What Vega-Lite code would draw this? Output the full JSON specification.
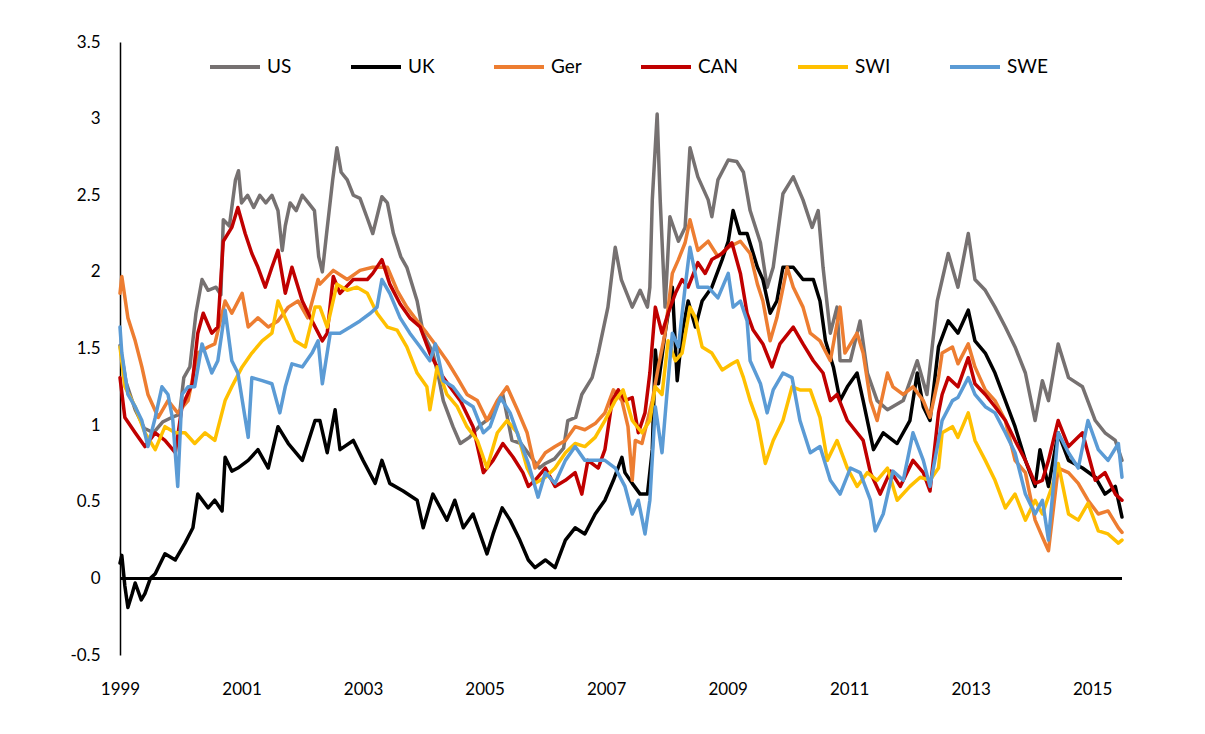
{
"$schema":"https://vega.github.io/schema/vega-lite/v6.json",
"autosize":{"type":"none"},
"padding":{"left":120,"top":42,"right":83,"bottom":79},
"width":1002,"height":613,
"background":"white",
"config":{"view":{"stroke":null},"font":"Lato"},
"data":{"values":[
{"s":"US","t":1999.00,"v":1.52},{"s":"US","t":1999.10,"v":1.28},{"s":"US","t":1999.25,"v":1.10},{"s":"US","t":1999.40,"v":0.98},{"s":"US","t":1999.55,"v":0.95},{"s":"US","t":1999.70,"v":1.02},{"s":"US","t":1999.85,"v":1.05},{"s":"US","t":1999.98,"v":1.07},{"s":"US","t":2000.05,"v":1.31},{"s":"US","t":2000.15,"v":1.38},{"s":"US","t":2000.25,"v":1.73},{"s":"US","t":2000.35,"v":1.95},{"s":"US","t":2000.45,"v":1.88},{"s":"US","t":2000.58,"v":1.90},{"s":"US","t":2000.66,"v":1.85},{"s":"US","t":2000.70,"v":2.34},{"s":"US","t":2000.80,"v":2.30},{"s":"US","t":2000.90,"v":2.60},{"s":"US","t":2000.95,"v":2.66},{"s":"US","t":2001.00,"v":2.45},{"s":"US","t":2001.10,"v":2.50},{"s":"US","t":2001.20,"v":2.42},{"s":"US","t":2001.30,"v":2.50},{"s":"US","t":2001.40,"v":2.45},{"s":"US","t":2001.50,"v":2.50},{"s":"US","t":2001.60,"v":2.40},{"s":"US","t":2001.67,"v":2.14},{"s":"US","t":2001.72,"v":2.30},{"s":"US","t":2001.80,"v":2.45},{"s":"US","t":2001.90,"v":2.40},{"s":"US","t":2002.00,"v":2.50},{"s":"US","t":2002.10,"v":2.45},{"s":"US","t":2002.20,"v":2.40},{"s":"US","t":2002.27,"v":2.10},{"s":"US","t":2002.33,"v":2.00},{"s":"US","t":2002.40,"v":2.25},{"s":"US","t":2002.50,"v":2.60},{"s":"US","t":2002.57,"v":2.81},{"s":"US","t":2002.64,"v":2.65},{"s":"US","t":2002.74,"v":2.60},{"s":"US","t":2002.84,"v":2.50},{"s":"US","t":2002.95,"v":2.48},{"s":"US","t":2003.07,"v":2.35},{"s":"US","t":2003.16,"v":2.25},{"s":"US","t":2003.31,"v":2.49},{"s":"US","t":2003.40,"v":2.45},{"s":"US","t":2003.50,"v":2.25},{"s":"US","t":2003.62,"v":2.10},{"s":"US","t":2003.72,"v":2.03},{"s":"US","t":2003.89,"v":1.81},{"s":"US","t":2003.99,"v":1.60},{"s":"US","t":2004.15,"v":1.47},{"s":"US","t":2004.25,"v":1.30},{"s":"US","t":2004.32,"v":1.16},{"s":"US","t":2004.48,"v":0.99},{"s":"US","t":2004.60,"v":0.88},{"s":"US","t":2004.75,"v":0.92},{"s":"US","t":2004.93,"v":1.00},{"s":"US","t":2005.10,"v":1.05},{"s":"US","t":2005.30,"v":1.20},{"s":"US","t":2005.45,"v":0.90},{"s":"US","t":2005.60,"v":0.88},{"s":"US","t":2005.75,"v":0.80},{"s":"US","t":2005.90,"v":0.72},{"s":"US","t":2006.00,"v":0.75},{"s":"US","t":2006.15,"v":0.78},{"s":"US","t":2006.30,"v":0.85},{"s":"US","t":2006.37,"v":1.03},{"s":"US","t":2006.50,"v":1.05},{"s":"US","t":2006.60,"v":1.20},{"s":"US","t":2006.77,"v":1.31},{"s":"US","t":2006.87,"v":1.47},{"s":"US","t":2007.03,"v":1.77},{"s":"US","t":2007.10,"v":2.00},{"s":"US","t":2007.15,"v":2.16},{"s":"US","t":2007.25,"v":1.95},{"s":"US","t":2007.35,"v":1.85},{"s":"US","t":2007.43,"v":1.77},{"s":"US","t":2007.56,"v":1.88},{"s":"US","t":2007.68,"v":1.77},{"s":"US","t":2007.72,"v":1.90},{"s":"US","t":2007.76,"v":2.47},{"s":"US","t":2007.84,"v":3.03},{"s":"US","t":2007.89,"v":2.47},{"s":"US","t":2007.97,"v":1.77},{"s":"US","t":2008.05,"v":2.36},{"s":"US","t":2008.19,"v":2.20},{"s":"US","t":2008.30,"v":2.29},{"s":"US","t":2008.38,"v":2.81},{"s":"US","t":2008.51,"v":2.62},{"s":"US","t":2008.68,"v":2.47},{"s":"US","t":2008.74,"v":2.36},{"s":"US","t":2008.84,"v":2.60},{"s":"US","t":2009.01,"v":2.73},{"s":"US","t":2009.15,"v":2.72},{"s":"US","t":2009.26,"v":2.65},{"s":"US","t":2009.37,"v":2.40},{"s":"US","t":2009.54,"v":2.19},{"s":"US","t":2009.65,"v":1.90},{"s":"US","t":2009.75,"v":2.03},{"s":"US","t":2009.91,"v":2.51},{"s":"US","t":2010.08,"v":2.62},{"s":"US","t":2010.24,"v":2.47},{"s":"US","t":2010.39,"v":2.29},{"s":"US","t":2010.49,"v":2.40},{"s":"US","t":2010.57,"v":2.03},{"s":"US","t":2010.69,"v":1.60},{"s":"US","t":2010.80,"v":1.77},{"s":"US","t":2010.85,"v":1.42},{"s":"US","t":2011.02,"v":1.42},{"s":"US","t":2011.18,"v":1.68},{"s":"US","t":2011.30,"v":1.34},{"s":"US","t":2011.46,"v":1.16},{"s":"US","t":2011.63,"v":1.10},{"s":"US","t":2011.89,"v":1.16},{"s":"US","t":2012.12,"v":1.42},{"s":"US","t":2012.28,"v":1.20},{"s":"US","t":2012.45,"v":1.81},{"s":"US","t":2012.63,"v":2.12},{"s":"US","t":2012.79,"v":1.90},{"s":"US","t":2012.96,"v":2.25},{"s":"US","t":2013.07,"v":1.95},{"s":"US","t":2013.24,"v":1.88},{"s":"US","t":2013.40,"v":1.77},{"s":"US","t":2013.57,"v":1.64},{"s":"US","t":2013.73,"v":1.51},{"s":"US","t":2013.90,"v":1.34},{"s":"US","t":2014.06,"v":1.03},{"s":"US","t":2014.18,"v":1.29},{"s":"US","t":2014.28,"v":1.16},{"s":"US","t":2014.44,"v":1.53},{"s":"US","t":2014.61,"v":1.31},{"s":"US","t":2014.84,"v":1.25},{"s":"US","t":2015.05,"v":1.03},{"s":"US","t":2015.21,"v":0.95},{"s":"US","t":2015.38,"v":0.90},{"s":"US","t":2015.49,"v":0.77},
{"s":"UK","t":1999.00,"v":0.10},{"s":"UK","t":1999.03,"v":0.15},{"s":"UK","t":1999.08,"v":-0.05},{"s":"UK","t":1999.13,"v":-0.19},{"s":"UK","t":1999.20,"v":-0.10},{"s":"UK","t":1999.25,"v":-0.03},{"s":"UK","t":1999.35,"v":-0.14},{"s":"UK","t":1999.41,"v":-0.10},{"s":"UK","t":1999.50,"v":0.00},{"s":"UK","t":1999.58,"v":0.03},{"s":"UK","t":1999.74,"v":0.16},{"s":"UK","t":1999.91,"v":0.12},{"s":"UK","t":2000.07,"v":0.23},{"s":"UK","t":2000.20,"v":0.33},{"s":"UK","t":2000.28,"v":0.55},{"s":"UK","t":2000.45,"v":0.46},{"s":"UK","t":2000.56,"v":0.51},{"s":"UK","t":2000.68,"v":0.44},{"s":"UK","t":2000.73,"v":0.79},{"s":"UK","t":2000.84,"v":0.70},{"s":"UK","t":2000.94,"v":0.72},{"s":"UK","t":2001.11,"v":0.77},{"s":"UK","t":2001.27,"v":0.84},{"s":"UK","t":2001.44,"v":0.72},{"s":"UK","t":2001.60,"v":0.99},{"s":"UK","t":2001.77,"v":0.88},{"s":"UK","t":2002.00,"v":0.77},{"s":"UK","t":2002.21,"v":1.03},{"s":"UK","t":2002.29,"v":1.03},{"s":"UK","t":2002.41,"v":0.82},{"s":"UK","t":2002.54,"v":1.10},{"s":"UK","t":2002.62,"v":0.84},{"s":"UK","t":2002.84,"v":0.90},{"s":"UK","t":2003.00,"v":0.77},{"s":"UK","t":2003.20,"v":0.62},{"s":"UK","t":2003.31,"v":0.77},{"s":"UK","t":2003.44,"v":0.62},{"s":"UK","t":2003.66,"v":0.57},{"s":"UK","t":2003.89,"v":0.51},{"s":"UK","t":2003.99,"v":0.33},{"s":"UK","t":2004.15,"v":0.55},{"s":"UK","t":2004.38,"v":0.38},{"s":"UK","t":2004.51,"v":0.51},{"s":"UK","t":2004.65,"v":0.33},{"s":"UK","t":2004.81,"v":0.42},{"s":"UK","t":2005.04,"v":0.16},{"s":"UK","t":2005.14,"v":0.29},{"s":"UK","t":2005.29,"v":0.46},{"s":"UK","t":2005.42,"v":0.38},{"s":"UK","t":2005.58,"v":0.25},{"s":"UK","t":2005.72,"v":0.12},{"s":"UK","t":2005.83,"v":0.07},{"s":"UK","t":2006.00,"v":0.12},{"s":"UK","t":2006.16,"v":0.07},{"s":"UK","t":2006.33,"v":0.25},{"s":"UK","t":2006.49,"v":0.33},{"s":"UK","t":2006.65,"v":0.29},{"s":"UK","t":2006.82,"v":0.42},{"s":"UK","t":2006.98,"v":0.51},{"s":"UK","t":2007.12,"v":0.64},{"s":"UK","t":2007.26,"v":0.79},{"s":"UK","t":2007.31,"v":0.69},{"s":"UK","t":2007.43,"v":0.62},{"s":"UK","t":2007.56,"v":0.55},{"s":"UK","t":2007.68,"v":0.55},{"s":"UK","t":2007.76,"v":0.84},{"s":"UK","t":2007.81,"v":1.49},{"s":"UK","t":2007.86,"v":1.27},{"s":"UK","t":2007.97,"v":1.60},{"s":"UK","t":2008.09,"v":1.90},{"s":"UK","t":2008.17,"v":1.29},{"s":"UK","t":2008.25,"v":1.60},{"s":"UK","t":2008.35,"v":1.81},{"s":"UK","t":2008.47,"v":1.64},{"s":"UK","t":2008.58,"v":1.81},{"s":"UK","t":2008.74,"v":1.90},{"s":"UK","t":2008.91,"v":2.08},{"s":"UK","t":2009.01,"v":2.20},{"s":"UK","t":2009.09,"v":2.40},{"s":"UK","t":2009.20,"v":2.25},{"s":"UK","t":2009.32,"v":2.25},{"s":"UK","t":2009.49,"v":2.03},{"s":"UK","t":2009.58,"v":1.95},{"s":"UK","t":2009.70,"v":1.73},{"s":"UK","t":2009.81,"v":1.81},{"s":"UK","t":2009.91,"v":2.03},{"s":"UK","t":2010.08,"v":2.03},{"s":"UK","t":2010.24,"v":1.95},{"s":"UK","t":2010.41,"v":1.95},{"s":"UK","t":2010.52,"v":1.81},{"s":"UK","t":2010.61,"v":1.55},{"s":"UK","t":2010.74,"v":1.38},{"s":"UK","t":2010.85,"v":1.16},{"s":"UK","t":2010.97,"v":1.25},{"s":"UK","t":2011.13,"v":1.34},{"s":"UK","t":2011.23,"v":1.16},{"s":"UK","t":2011.40,"v":0.84},{"s":"UK","t":2011.56,"v":0.95},{"s":"UK","t":2011.79,"v":0.88},{"s":"UK","t":2012.00,"v":1.03},{"s":"UK","t":2012.12,"v":1.34},{"s":"UK","t":2012.22,"v":1.12},{"s":"UK","t":2012.33,"v":1.03},{"s":"UK","t":2012.47,"v":1.51},{"s":"UK","t":2012.63,"v":1.68},{"s":"UK","t":2012.79,"v":1.60},{"s":"UK","t":2012.96,"v":1.75},{"s":"UK","t":2013.07,"v":1.55},{"s":"UK","t":2013.24,"v":1.47},{"s":"UK","t":2013.40,"v":1.34},{"s":"UK","t":2013.57,"v":1.16},{"s":"UK","t":2013.73,"v":0.99},{"s":"UK","t":2013.90,"v":0.77},{"s":"UK","t":2014.06,"v":0.60},{"s":"UK","t":2014.14,"v":0.84},{"s":"UK","t":2014.28,"v":0.60},{"s":"UK","t":2014.44,"v":0.95},{"s":"UK","t":2014.61,"v":0.77},{"s":"UK","t":2014.84,"v":0.72},{"s":"UK","t":2015.05,"v":0.66},{"s":"UK","t":2015.21,"v":0.55},{"s":"UK","t":2015.38,"v":0.60},{"s":"UK","t":2015.49,"v":0.40},
{"s":"Ger","t":1999.00,"v":1.86},{"s":"Ger","t":1999.03,"v":1.97},{"s":"Ger","t":1999.13,"v":1.70},{"s":"Ger","t":1999.25,"v":1.55},{"s":"Ger","t":1999.36,"v":1.38},{"s":"Ger","t":1999.46,"v":1.20},{"s":"Ger","t":1999.63,"v":1.05},{"s":"Ger","t":1999.79,"v":1.16},{"s":"Ger","t":1999.95,"v":1.08},{"s":"Ger","t":2000.12,"v":1.16},{"s":"Ger","t":2000.28,"v":1.47},{"s":"Ger","t":2000.45,"v":1.51},{"s":"Ger","t":2000.56,"v":1.53},{"s":"Ger","t":2000.73,"v":1.81},{"s":"Ger","t":2000.84,"v":1.73},{"s":"Ger","t":2001.01,"v":1.86},{"s":"Ger","t":2001.11,"v":1.64},{"s":"Ger","t":2001.27,"v":1.70},{"s":"Ger","t":2001.44,"v":1.64},{"s":"Ger","t":2001.60,"v":1.68},{"s":"Ger","t":2001.77,"v":1.77},{"s":"Ger","t":2001.93,"v":1.81},{"s":"Ger","t":2002.09,"v":1.70},{"s":"Ger","t":2002.26,"v":1.95},{"s":"Ger","t":2002.29,"v":1.92},{"s":"Ger","t":2002.51,"v":2.01},{"s":"Ger","t":2002.74,"v":1.95},{"s":"Ger","t":2002.95,"v":2.01},{"s":"Ger","t":2003.16,"v":2.03},{"s":"Ger","t":2003.40,"v":2.03},{"s":"Ger","t":2003.56,"v":1.88},{"s":"Ger","t":2003.72,"v":1.77},{"s":"Ger","t":2003.89,"v":1.68},{"s":"Ger","t":2004.05,"v":1.60},{"s":"Ger","t":2004.22,"v":1.51},{"s":"Ger","t":2004.38,"v":1.42},{"s":"Ger","t":2004.55,"v":1.31},{"s":"Ger","t":2004.71,"v":1.20},{"s":"Ger","t":2004.88,"v":1.16},{"s":"Ger","t":2005.04,"v":1.03},{"s":"Ger","t":2005.21,"v":1.16},{"s":"Ger","t":2005.37,"v":1.25},{"s":"Ger","t":2005.54,"v":1.10},{"s":"Ger","t":2005.70,"v":0.95},{"s":"Ger","t":2005.83,"v":0.72},{"s":"Ger","t":2006.00,"v":0.82},{"s":"Ger","t":2006.16,"v":0.86},{"s":"Ger","t":2006.33,"v":0.90},{"s":"Ger","t":2006.49,"v":0.99},{"s":"Ger","t":2006.65,"v":0.97},{"s":"Ger","t":2006.82,"v":1.01},{"s":"Ger","t":2006.98,"v":1.08},{"s":"Ger","t":2007.12,"v":1.23},{"s":"Ger","t":2007.26,"v":1.16},{"s":"Ger","t":2007.36,"v":0.99},{"s":"Ger","t":2007.43,"v":0.64},{"s":"Ger","t":2007.48,"v":0.90},{"s":"Ger","t":2007.59,"v":0.88},{"s":"Ger","t":2007.76,"v":1.16},{"s":"Ger","t":2007.86,"v":1.38},{"s":"Ger","t":2007.97,"v":1.60},{"s":"Ger","t":2008.09,"v":1.99},{"s":"Ger","t":2008.19,"v":2.08},{"s":"Ger","t":2008.30,"v":2.19},{"s":"Ger","t":2008.38,"v":2.34},{"s":"Ger","t":2008.51,"v":2.14},{"s":"Ger","t":2008.68,"v":2.20},{"s":"Ger","t":2008.84,"v":2.10},{"s":"Ger","t":2009.01,"v":2.16},{"s":"Ger","t":2009.21,"v":2.20},{"s":"Ger","t":2009.37,"v":2.12},{"s":"Ger","t":2009.49,"v":1.92},{"s":"Ger","t":2009.58,"v":1.81},{"s":"Ger","t":2009.70,"v":1.55},{"s":"Ger","t":2009.81,"v":1.70},{"s":"Ger","t":2009.98,"v":2.03},{"s":"Ger","t":2010.08,"v":1.90},{"s":"Ger","t":2010.24,"v":1.77},{"s":"Ger","t":2010.36,"v":1.60},{"s":"Ger","t":2010.52,"v":1.55},{"s":"Ger","t":2010.69,"v":1.42},{"s":"Ger","t":2010.85,"v":1.77},{"s":"Ger","t":2010.93,"v":1.47},{"s":"Ger","t":2011.13,"v":1.60},{"s":"Ger","t":2011.23,"v":1.47},{"s":"Ger","t":2011.35,"v":1.16},{"s":"Ger","t":2011.46,"v":1.03},{"s":"Ger","t":2011.63,"v":1.34},{"s":"Ger","t":2011.72,"v":1.25},{"s":"Ger","t":2011.89,"v":1.20},{"s":"Ger","t":2012.05,"v":1.25},{"s":"Ger","t":2012.22,"v":1.16},{"s":"Ger","t":2012.33,"v":1.05},{"s":"Ger","t":2012.47,"v":1.31},{"s":"Ger","t":2012.53,"v":1.47},{"s":"Ger","t":2012.70,"v":1.51},{"s":"Ger","t":2012.79,"v":1.40},{"s":"Ger","t":2012.96,"v":1.53},{"s":"Ger","t":2013.07,"v":1.38},{"s":"Ger","t":2013.24,"v":1.23},{"s":"Ger","t":2013.40,"v":1.16},{"s":"Ger","t":2013.57,"v":1.03},{"s":"Ger","t":2013.73,"v":0.77},{"s":"Ger","t":2013.90,"v":0.69},{"s":"Ger","t":2014.06,"v":0.38},{"s":"Ger","t":2014.18,"v":0.27},{"s":"Ger","t":2014.28,"v":0.18},{"s":"Ger","t":2014.44,"v":0.72},{"s":"Ger","t":2014.61,"v":0.69},{"s":"Ger","t":2014.77,"v":0.62},{"s":"Ger","t":2014.93,"v":0.51},{"s":"Ger","t":2015.10,"v":0.42},{"s":"Ger","t":2015.26,"v":0.44},{"s":"Ger","t":2015.43,"v":0.33},{"s":"Ger","t":2015.49,"v":0.30},
{"s":"CAN","t":1999.00,"v":1.31},{"s":"CAN","t":1999.08,"v":1.05},{"s":"CAN","t":1999.25,"v":0.95},{"s":"CAN","t":1999.41,"v":0.86},{"s":"CAN","t":1999.58,"v":0.95},{"s":"CAN","t":1999.74,"v":0.90},{"s":"CAN","t":1999.91,"v":0.82},{"s":"CAN","t":2000.02,"v":1.12},{"s":"CAN","t":2000.19,"v":1.27},{"s":"CAN","t":2000.28,"v":1.60},{"s":"CAN","t":2000.37,"v":1.73},{"s":"CAN","t":2000.51,"v":1.60},{"s":"CAN","t":2000.61,"v":1.64},{"s":"CAN","t":2000.70,"v":2.20},{"s":"CAN","t":2000.84,"v":2.29},{"s":"CAN","t":2000.94,"v":2.42},{"s":"CAN","t":2001.06,"v":2.25},{"s":"CAN","t":2001.17,"v":2.12},{"s":"CAN","t":2001.27,"v":2.03},{"s":"CAN","t":2001.39,"v":1.90},{"s":"CAN","t":2001.50,"v":2.03},{"s":"CAN","t":2001.60,"v":2.14},{"s":"CAN","t":2001.72,"v":1.86},{"s":"CAN","t":2001.83,"v":2.03},{"s":"CAN","t":2002.00,"v":1.81},{"s":"CAN","t":2002.16,"v":1.68},{"s":"CAN","t":2002.33,"v":1.55},{"s":"CAN","t":2002.41,"v":1.60},{"s":"CAN","t":2002.51,"v":1.97},{"s":"CAN","t":2002.62,"v":1.86},{"s":"CAN","t":2002.84,"v":1.95},{"s":"CAN","t":2003.07,"v":1.95},{"s":"CAN","t":2003.16,"v":1.99},{"s":"CAN","t":2003.31,"v":2.08},{"s":"CAN","t":2003.44,"v":1.92},{"s":"CAN","t":2003.61,"v":1.79},{"s":"CAN","t":2003.77,"v":1.70},{"s":"CAN","t":2003.94,"v":1.64},{"s":"CAN","t":2004.10,"v":1.47},{"s":"CAN","t":2004.27,"v":1.34},{"s":"CAN","t":2004.43,"v":1.25},{"s":"CAN","t":2004.60,"v":1.16},{"s":"CAN","t":2004.81,"v":0.99},{"s":"CAN","t":2004.98,"v":0.69},{"s":"CAN","t":2005.14,"v":0.77},{"s":"CAN","t":2005.30,"v":0.88},{"s":"CAN","t":2005.47,"v":0.79},{"s":"CAN","t":2005.63,"v":0.69},{"s":"CAN","t":2005.72,"v":0.60},{"s":"CAN","t":2005.83,"v":0.64},{"s":"CAN","t":2006.00,"v":0.72},{"s":"CAN","t":2006.16,"v":0.60},{"s":"CAN","t":2006.33,"v":0.64},{"s":"CAN","t":2006.49,"v":0.69},{"s":"CAN","t":2006.60,"v":0.55},{"s":"CAN","t":2006.70,"v":0.77},{"s":"CAN","t":2006.87,"v":0.72},{"s":"CAN","t":2006.98,"v":0.84},{"s":"CAN","t":2007.10,"v":1.16},{"s":"CAN","t":2007.20,"v":1.23},{"s":"CAN","t":2007.31,"v":1.16},{"s":"CAN","t":2007.43,"v":1.18},{"s":"CAN","t":2007.53,"v":0.95},{"s":"CAN","t":2007.64,"v":1.08},{"s":"CAN","t":2007.72,"v":1.34},{"s":"CAN","t":2007.81,"v":1.77},{"s":"CAN","t":2007.92,"v":1.60},{"s":"CAN","t":2008.02,"v":1.73},{"s":"CAN","t":2008.14,"v":1.86},{"s":"CAN","t":2008.25,"v":1.95},{"s":"CAN","t":2008.35,"v":1.90},{"s":"CAN","t":2008.51,"v":2.06},{"s":"CAN","t":2008.63,"v":1.99},{"s":"CAN","t":2008.74,"v":2.08},{"s":"CAN","t":2008.91,"v":2.12},{"s":"CAN","t":2009.07,"v":2.19},{"s":"CAN","t":2009.21,"v":1.99},{"s":"CAN","t":2009.32,"v":1.73},{"s":"CAN","t":2009.42,"v":1.62},{"s":"CAN","t":2009.58,"v":1.53},{"s":"CAN","t":2009.73,"v":1.38},{"s":"CAN","t":2009.86,"v":1.53},{"s":"CAN","t":2010.08,"v":1.64},{"s":"CAN","t":2010.24,"v":1.53},{"s":"CAN","t":2010.41,"v":1.42},{"s":"CAN","t":2010.57,"v":1.34},{"s":"CAN","t":2010.69,"v":1.16},{"s":"CAN","t":2010.80,"v":1.20},{"s":"CAN","t":2010.97,"v":1.03},{"s":"CAN","t":2011.13,"v":0.95},{"s":"CAN","t":2011.23,"v":0.90},{"s":"CAN","t":2011.35,"v":0.69},{"s":"CAN","t":2011.51,"v":0.55},{"s":"CAN","t":2011.68,"v":0.70},{"s":"CAN","t":2011.84,"v":0.60},{"s":"CAN","t":2012.05,"v":0.77},{"s":"CAN","t":2012.22,"v":0.69},{"s":"CAN","t":2012.33,"v":0.57},{"s":"CAN","t":2012.47,"v":1.08},{"s":"CAN","t":2012.53,"v":1.20},{"s":"CAN","t":2012.63,"v":1.31},{"s":"CAN","t":2012.79,"v":1.25},{"s":"CAN","t":2012.96,"v":1.44},{"s":"CAN","t":2013.07,"v":1.27},{"s":"CAN","t":2013.24,"v":1.20},{"s":"CAN","t":2013.40,"v":1.12},{"s":"CAN","t":2013.57,"v":1.03},{"s":"CAN","t":2013.73,"v":0.90},{"s":"CAN","t":2013.90,"v":0.77},{"s":"CAN","t":2014.06,"v":0.62},{"s":"CAN","t":2014.18,"v":0.64},{"s":"CAN","t":2014.28,"v":0.77},{"s":"CAN","t":2014.44,"v":1.03},{"s":"CAN","t":2014.61,"v":0.86},{"s":"CAN","t":2014.84,"v":0.95},{"s":"CAN","t":2015.05,"v":0.64},{"s":"CAN","t":2015.21,"v":0.69},{"s":"CAN","t":2015.38,"v":0.55},{"s":"CAN","t":2015.49,"v":0.51},
{"s":"SWI","t":1999.00,"v":1.51},{"s":"SWI","t":1999.08,"v":1.25},{"s":"SWI","t":1999.25,"v":1.12},{"s":"SWI","t":1999.41,"v":0.95},{"s":"SWI","t":1999.58,"v":0.84},{"s":"SWI","t":1999.74,"v":0.99},{"s":"SWI","t":1999.91,"v":0.95},{"s":"SWI","t":2000.07,"v":0.95},{"s":"SWI","t":2000.23,"v":0.88},{"s":"SWI","t":2000.40,"v":0.95},{"s":"SWI","t":2000.56,"v":0.90},{"s":"SWI","t":2000.73,"v":1.16},{"s":"SWI","t":2000.84,"v":1.25},{"s":"SWI","t":2001.01,"v":1.38},{"s":"SWI","t":2001.17,"v":1.47},{"s":"SWI","t":2001.34,"v":1.55},{"s":"SWI","t":2001.50,"v":1.60},{"s":"SWI","t":2001.60,"v":1.81},{"s":"SWI","t":2001.72,"v":1.70},{"s":"SWI","t":2001.88,"v":1.55},{"s":"SWI","t":2002.05,"v":1.51},{"s":"SWI","t":2002.21,"v":1.77},{"s":"SWI","t":2002.29,"v":1.77},{"s":"SWI","t":2002.41,"v":1.64},{"s":"SWI","t":2002.57,"v":1.92},{"s":"SWI","t":2002.74,"v":1.88},{"s":"SWI","t":2002.90,"v":1.90},{"s":"SWI","t":2003.07,"v":1.86},{"s":"SWI","t":2003.23,"v":1.73},{"s":"SWI","t":2003.40,"v":1.64},{"s":"SWI","t":2003.56,"v":1.62},{"s":"SWI","t":2003.72,"v":1.51},{"s":"SWI","t":2003.89,"v":1.34},{"s":"SWI","t":2004.05,"v":1.25},{"s":"SWI","t":2004.10,"v":1.10},{"s":"SWI","t":2004.22,"v":1.38},{"s":"SWI","t":2004.38,"v":1.20},{"s":"SWI","t":2004.55,"v":1.12},{"s":"SWI","t":2004.71,"v":0.99},{"s":"SWI","t":2004.88,"v":0.90},{"s":"SWI","t":2005.04,"v":0.72},{"s":"SWI","t":2005.21,"v":0.95},{"s":"SWI","t":2005.37,"v":1.03},{"s":"SWI","t":2005.54,"v":0.95},{"s":"SWI","t":2005.70,"v":0.72},{"s":"SWI","t":2005.83,"v":0.62},{"s":"SWI","t":2006.00,"v":0.66},{"s":"SWI","t":2006.16,"v":0.72},{"s":"SWI","t":2006.33,"v":0.82},{"s":"SWI","t":2006.49,"v":0.88},{"s":"SWI","t":2006.65,"v":0.86},{"s":"SWI","t":2006.82,"v":0.92},{"s":"SWI","t":2006.98,"v":1.03},{"s":"SWI","t":2007.15,"v":1.16},{"s":"SWI","t":2007.28,"v":1.23},{"s":"SWI","t":2007.43,"v":1.03},{"s":"SWI","t":2007.59,"v":0.95},{"s":"SWI","t":2007.72,"v":1.03},{"s":"SWI","t":2007.81,"v":1.25},{"s":"SWI","t":2007.92,"v":1.20},{"s":"SWI","t":2008.02,"v":1.55},{"s":"SWI","t":2008.14,"v":1.42},{"s":"SWI","t":2008.25,"v":1.47},{"s":"SWI","t":2008.38,"v":1.77},{"s":"SWI","t":2008.47,"v":1.70},{"s":"SWI","t":2008.58,"v":1.51},{"s":"SWI","t":2008.74,"v":1.47},{"s":"SWI","t":2008.91,"v":1.36},{"s":"SWI","t":2009.07,"v":1.40},{"s":"SWI","t":2009.16,"v":1.42},{"s":"SWI","t":2009.26,"v":1.31},{"s":"SWI","t":2009.37,"v":1.16},{"s":"SWI","t":2009.49,"v":1.03},{"s":"SWI","t":2009.62,"v":0.75},{"s":"SWI","t":2009.75,"v":0.90},{"s":"SWI","t":2009.91,"v":1.03},{"s":"SWI","t":2010.06,"v":1.25},{"s":"SWI","t":2010.19,"v":1.23},{"s":"SWI","t":2010.36,"v":1.23},{"s":"SWI","t":2010.52,"v":1.05},{"s":"SWI","t":2010.64,"v":0.77},{"s":"SWI","t":2010.80,"v":0.90},{"s":"SWI","t":2010.97,"v":0.72},{"s":"SWI","t":2011.13,"v":0.60},{"s":"SWI","t":2011.30,"v":0.69},{"s":"SWI","t":2011.46,"v":0.64},{"s":"SWI","t":2011.63,"v":0.72},{"s":"SWI","t":2011.79,"v":0.51},{"s":"SWI","t":2012.00,"v":0.60},{"s":"SWI","t":2012.17,"v":0.66},{"s":"SWI","t":2012.33,"v":0.64},{"s":"SWI","t":2012.47,"v":0.72},{"s":"SWI","t":2012.53,"v":0.95},{"s":"SWI","t":2012.70,"v":0.99},{"s":"SWI","t":2012.79,"v":0.92},{"s":"SWI","t":2012.96,"v":1.08},{"s":"SWI","t":2013.07,"v":0.90},{"s":"SWI","t":2013.24,"v":0.77},{"s":"SWI","t":2013.40,"v":0.64},{"s":"SWI","t":2013.57,"v":0.46},{"s":"SWI","t":2013.73,"v":0.55},{"s":"SWI","t":2013.90,"v":0.38},{"s":"SWI","t":2014.06,"v":0.51},{"s":"SWI","t":2014.18,"v":0.42},{"s":"SWI","t":2014.34,"v":0.60},{"s":"SWI","t":2014.44,"v":0.75},{"s":"SWI","t":2014.61,"v":0.42},{"s":"SWI","t":2014.77,"v":0.38},{"s":"SWI","t":2014.93,"v":0.49},{"s":"SWI","t":2015.10,"v":0.31},{"s":"SWI","t":2015.26,"v":0.29},{"s":"SWI","t":2015.43,"v":0.23},{"s":"SWI","t":2015.49,"v":0.25},
{"s":"SWE","t":1999.00,"v":1.64},{"s":"SWE","t":1999.03,"v":1.47},{"s":"SWE","t":1999.13,"v":1.20},{"s":"SWE","t":1999.25,"v":1.12},{"s":"SWE","t":1999.36,"v":1.03},{"s":"SWE","t":1999.46,"v":0.86},{"s":"SWE","t":1999.58,"v":1.05},{"s":"SWE","t":1999.69,"v":1.25},{"s":"SWE","t":1999.79,"v":1.20},{"s":"SWE","t":1999.87,"v":1.03},{"s":"SWE","t":1999.95,"v":0.60},{"s":"SWE","t":2000.02,"v":1.20},{"s":"SWE","t":2000.12,"v":1.25},{"s":"SWE","t":2000.23,"v":1.25},{"s":"SWE","t":2000.35,"v":1.53},{"s":"SWE","t":2000.51,"v":1.34},{"s":"SWE","t":2000.61,"v":1.42},{"s":"SWE","t":2000.73,"v":1.75},{"s":"SWE","t":2000.84,"v":1.42},{"s":"SWE","t":2000.94,"v":1.34},{"s":"SWE","t":2001.11,"v":0.92},{"s":"SWE","t":2001.17,"v":1.31},{"s":"SWE","t":2001.34,"v":1.29},{"s":"SWE","t":2001.50,"v":1.27},{"s":"SWE","t":2001.63,"v":1.08},{"s":"SWE","t":2001.72,"v":1.25},{"s":"SWE","t":2001.83,"v":1.40},{"s":"SWE","t":2002.00,"v":1.38},{"s":"SWE","t":2002.16,"v":1.47},{"s":"SWE","t":2002.26,"v":1.55},{"s":"SWE","t":2002.33,"v":1.27},{"s":"SWE","t":2002.46,"v":1.60},{"s":"SWE","t":2002.62,"v":1.60},{"s":"SWE","t":2002.79,"v":1.64},{"s":"SWE","t":2002.95,"v":1.68},{"s":"SWE","t":2003.12,"v":1.73},{"s":"SWE","t":2003.23,"v":1.77},{"s":"SWE","t":2003.31,"v":1.95},{"s":"SWE","t":2003.44,"v":1.86},{"s":"SWE","t":2003.61,"v":1.70},{"s":"SWE","t":2003.77,"v":1.60},{"s":"SWE","t":2003.94,"v":1.51},{"s":"SWE","t":2004.10,"v":1.42},{"s":"SWE","t":2004.19,"v":1.53},{"s":"SWE","t":2004.32,"v":1.29},{"s":"SWE","t":2004.48,"v":1.25},{"s":"SWE","t":2004.65,"v":1.16},{"s":"SWE","t":2004.81,"v":1.12},{"s":"SWE","t":2004.98,"v":0.95},{"s":"SWE","t":2005.09,"v":0.99},{"s":"SWE","t":2005.26,"v":1.18},{"s":"SWE","t":2005.42,"v":1.08},{"s":"SWE","t":2005.58,"v":0.90},{"s":"SWE","t":2005.72,"v":0.75},{"s":"SWE","t":2005.88,"v":0.53},{"s":"SWE","t":2006.00,"v":0.69},{"s":"SWE","t":2006.16,"v":0.62},{"s":"SWE","t":2006.33,"v":0.77},{"s":"SWE","t":2006.49,"v":0.86},{"s":"SWE","t":2006.65,"v":0.77},{"s":"SWE","t":2006.82,"v":0.77},{"s":"SWE","t":2006.98,"v":0.77},{"s":"SWE","t":2007.15,"v":0.72},{"s":"SWE","t":2007.31,"v":0.60},{"s":"SWE","t":2007.43,"v":0.42},{"s":"SWE","t":2007.53,"v":0.51},{"s":"SWE","t":2007.64,"v":0.29},{"s":"SWE","t":2007.72,"v":0.51},{"s":"SWE","t":2007.81,"v":1.12},{"s":"SWE","t":2007.92,"v":0.82},{"s":"SWE","t":2008.00,"v":1.20},{"s":"SWE","t":2008.09,"v":1.60},{"s":"SWE","t":2008.19,"v":1.51},{"s":"SWE","t":2008.30,"v":1.90},{"s":"SWE","t":2008.38,"v":2.16},{"s":"SWE","t":2008.51,"v":1.90},{"s":"SWE","t":2008.68,"v":1.90},{"s":"SWE","t":2008.84,"v":1.83},{"s":"SWE","t":2009.01,"v":1.99},{"s":"SWE","t":2009.09,"v":1.77},{"s":"SWE","t":2009.21,"v":1.81},{"s":"SWE","t":2009.32,"v":1.68},{"s":"SWE","t":2009.37,"v":1.42},{"s":"SWE","t":2009.54,"v":1.27},{"s":"SWE","t":2009.65,"v":1.08},{"s":"SWE","t":2009.75,"v":1.23},{"s":"SWE","t":2009.91,"v":1.34},{"s":"SWE","t":2010.06,"v":1.31},{"s":"SWE","t":2010.19,"v":1.03},{"s":"SWE","t":2010.36,"v":0.82},{"s":"SWE","t":2010.52,"v":0.86},{"s":"SWE","t":2010.69,"v":0.64},{"s":"SWE","t":2010.85,"v":0.55},{"s":"SWE","t":2011.02,"v":0.72},{"s":"SWE","t":2011.18,"v":0.69},{"s":"SWE","t":2011.35,"v":0.51},{"s":"SWE","t":2011.43,"v":0.31},{"s":"SWE","t":2011.56,"v":0.42},{"s":"SWE","t":2011.72,"v":0.70},{"s":"SWE","t":2011.89,"v":0.64},{"s":"SWE","t":2012.05,"v":0.95},{"s":"SWE","t":2012.22,"v":0.77},{"s":"SWE","t":2012.33,"v":0.60},{"s":"SWE","t":2012.47,"v":0.90},{"s":"SWE","t":2012.53,"v":1.03},{"s":"SWE","t":2012.70,"v":1.16},{"s":"SWE","t":2012.79,"v":1.18},{"s":"SWE","t":2012.96,"v":1.31},{"s":"SWE","t":2013.07,"v":1.20},{"s":"SWE","t":2013.24,"v":1.12},{"s":"SWE","t":2013.40,"v":1.08},{"s":"SWE","t":2013.57,"v":0.95},{"s":"SWE","t":2013.73,"v":0.82},{"s":"SWE","t":2013.90,"v":0.55},{"s":"SWE","t":2014.06,"v":0.42},{"s":"SWE","t":2014.18,"v":0.51},{"s":"SWE","t":2014.28,"v":0.25},{"s":"SWE","t":2014.44,"v":0.95},{"s":"SWE","t":2014.61,"v":0.82},{"s":"SWE","t":2014.77,"v":0.72},{"s":"SWE","t":2014.93,"v":1.03},{"s":"SWE","t":2015.10,"v":0.84},{"s":"SWE","t":2015.26,"v":0.77},{"s":"SWE","t":2015.43,"v":0.88},{"s":"SWE","t":2015.49,"v":0.66}
]},
"layer":[
{"mark":{"type":"rule","color":"#000000","strokeWidth":1.5},"encoding":{"y":{"datum":0,"type":"quantitative","scale":{"domain":[-0.5,3.5],"nice":false,"zero":false}}}},
{"mark":{"type":"line","strokeWidth":3.5,"strokeJoin":"round","strokeCap":"round"},
"encoding":{
"x":{"field":"t","type":"quantitative","scale":{"domain":[1999,2015.49],"nice":false,"zero":false},
 "axis":{"title":null,"values":[1999,2001,2003,2005,2007,2009,2011,2013,2015],"labelExpr":"toString(datum.value)","domain":false,"ticks":false,"grid":false,"labelFlush":false,"labelPadding":26,"labelFontSize":17,"labelColor":"#000000","labelFont":"Lato"}},
"y":{"field":"v","type":"quantitative","scale":{"domain":[-0.5,3.5],"nice":false,"zero":false},
 "axis":{"title":null,"values":[-0.5,0,0.5,1,1.5,2,2.5,3,3.5],"labelExpr":"toString(datum.value)","domain":true,"domainColor":"#000000","domainWidth":1.5,"ticks":false,"grid":false,"labelPadding":20,"labelFontSize":17,"labelColor":"#000000","labelFont":"Lato"}},
"color":{"field":"s","type":"nominal","scale":{"domain":["US","UK","Ger","CAN","SWI","SWE"],"range":["#767171","#000000","#ED7D31","#C00000","#FFC000","#5B9BD5"]},
 "legend":{"title":null,"orient":"none","direction":"horizontal","legendX":88,"legendY":-2,"symbolType":"stroke","symbolSize":2500,"symbolStrokeWidth":4,"labelFontSize":19,"labelFont":"Lato","labelColor":"#000000","labelOffset":5,"columnPadding":51}}
}}
]
}
